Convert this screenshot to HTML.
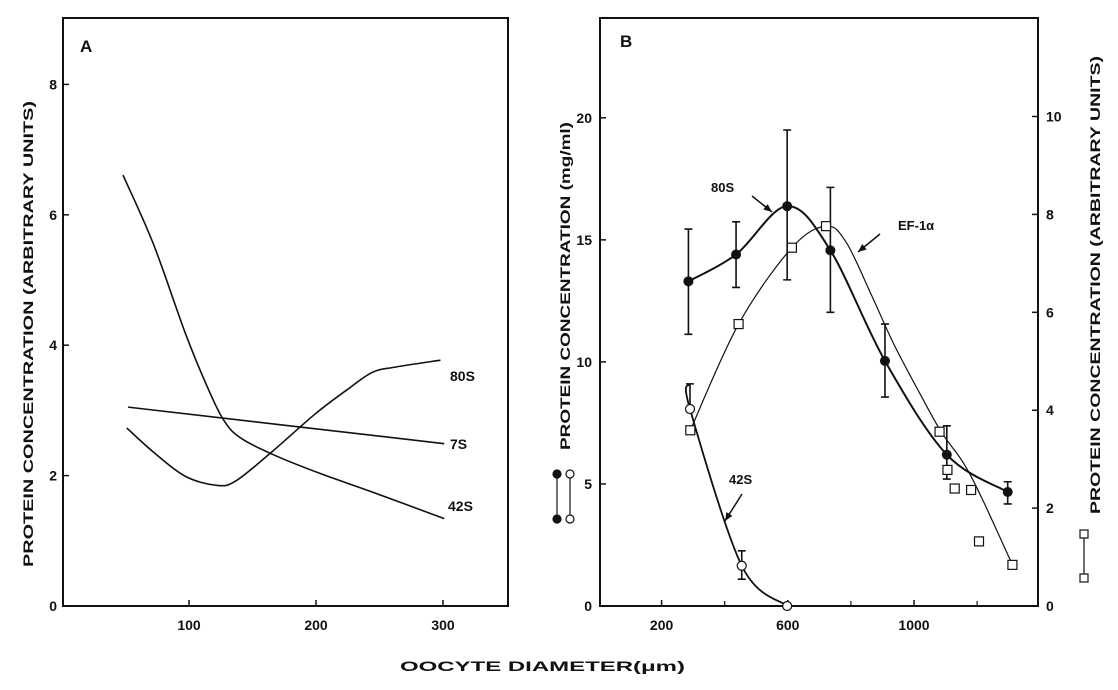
<!DOCTYPE html>
<html><head><meta charset="utf-8"><style>
html,body{margin:0;padding:0;background:#fff;width:1118px;height:690px;overflow:hidden}
svg{display:block}
text{font-family:"Liberation Sans",sans-serif;font-weight:bold;fill:#111}
</style></head><body>
<svg id="chart" width="1118" height="690" viewBox="0 0 1118 690"></svg>
<script>
// Panel A data
const aTicksX = [100, 200, 300];
const aTicksY = [0, 2, 4, 6, 8];
const a42sX = [48, 72, 97, 114, 128, 142, 170, 205, 244, 301];
const a42sY = [6.61, 5.55, 4.19, 3.38, 2.83, 2.56, 2.29, 2.02, 1.75, 1.34];
const a7sX = [52, 301];
const a7sY = [3.05, 2.49];
const a80sX = [51, 72, 97, 122, 137, 165, 199, 224, 244, 261, 298];
const a80sY = [2.73, 2.36, 1.99, 1.85, 1.92, 2.36, 2.94, 3.31, 3.58, 3.66, 3.77];
// Panel B data
const bTicksX = [200, 600, 1000];
const bMinorX = [400, 800, 1200];
const bTicksLeft = [0, 5, 10, 15, 20];
const bTicksRight = [0, 2, 4, 6, 8, 10];
const b80sX = [285, 436, 598, 735, 908, 1104, 1297];
const b80sY = [13.3, 14.4, 16.38, 14.57, 10.04, 6.2, 4.67];
const b80sHi = [15.44, 15.74, 19.5, 17.15, 11.55, 7.38, 5.09];
const b80sLo = [11.13, 13.05, 13.36, 12.03, 8.56, 5.2, 4.18];
const b42sX = [290, 454, 598];
const b42sY = [8.07, 1.65, 0];
const b42sHi = [9.1, 2.26, 0];
const b42sLo = [8.07, 1.1, 0];
const efX = [291, 444, 613, 721, 1081, 1106, 1129, 1181, 1206, 1312];
const efY = [3.59, 5.76, 7.32, 7.76, 3.56, 2.78, 2.40, 2.37, 1.32, 0.84];
const efCurveX = [291, 444, 613, 721, 785, 866, 936, 1017, 1087, 1157, 1216, 1312];
const efCurveY = [3.59, 5.76, 7.32, 7.76, 7.43, 6.34, 5.35, 4.36, 3.55, 2.92, 2.19, 0.84];

const NS = "http://www.w3.org/2000/svg";
const svg = document.getElementById('chart');
function mk(tag, attrs, parent) {
  const e = document.createElementNS(NS, tag);
  for (const k in attrs) e.setAttribute(k, attrs[k]);
  (parent || svg).appendChild(e);
  return e;
}
const axA = v => 62 + v * 1.27;
const ayA = v => 606 - v * 65.2;
const bxS = v => 661.6 + (v - 200) * 0.3155;
const byL = v => 606 - v * 24.41;
const byR = v => 606 - v * 48.95;

function smooth(pts) {
  let d = `M${pts[0][0]},${pts[0][1]}`;
  for (let i = 0; i < pts.length - 1; i++) {
    const p0 = pts[i - 1] || pts[i], p1 = pts[i], p2 = pts[i + 1], p3 = pts[i + 2] || p2;
    const c1 = [p1[0] + (p2[0] - p0[0]) / 6, p1[1] + (p2[1] - p0[1]) / 6];
    const c2 = [p2[0] - (p3[0] - p1[0]) / 6, p2[1] - (p3[1] - p1[1]) / 6];
    d += ` C${c1[0]},${c1[1]} ${c2[0]},${c2[1]} ${p2[0]},${p2[1]}`;
  }
  return d;
}
function txt(x, y, s, attrs, name) {
  const t = mk('text', Object.assign({x: x, y: y}, attrs || {}));
  t.textContent = s;
  
  
  return t;
}

// ---------- Panel A ----------
const fa = mk('rect', {x: 63, y: 18, width: 445, height: 588, fill: 'none', stroke: '#111', 'stroke-width': 2});


txt(80, 52, 'A', {'font-size': 17}, 'panel-a-label');
aTicksX.forEach(v => {
  const l = mk('line', {x1: axA(v), x2: axA(v), y1: 606, y2: 600, stroke: '#111', 'stroke-width': 1.5});
  
  
  txt(axA(v), 630, String(v), {'font-size': 14, 'text-anchor': 'middle'}, 'a-x-tick-label');
});
aTicksY.forEach(v => {
  const l = mk('line', {x1: 63, x2: 69, y1: ayA(v), y2: ayA(v), stroke: '#111', 'stroke-width': 1.5});
  
  
  txt(57, ayA(v) + 5, String(v), {'font-size': 14, 'text-anchor': 'end'}, 'a-y-tick-label');
});
txt(0, 0, 'PROTEIN  CONCENTRATION  (ARBITRARY  UNITS)', {'font-size': 14, 'text-anchor': 'middle', transform: 'translate(33,334) rotate(-90)', textLength: 466, lengthAdjust: 'spacingAndGlyphs'}, 'a-y-axis-title');
function lineA(xs, ys, name) {
  const p = mk('path', {d: smooth(xs.map((x, i) => [axA(x), ayA(ys[i])])), fill: 'none', stroke: '#111', 'stroke-width': 1.6});
  
  
}
lineA(a42sX, a42sY, 'a-line-42s');
lineA(a7sX, a7sY, 'a-line-7s');
lineA(a80sX, a80sY, 'a-line-80s');
txt(450, 381, '80S', {'font-size': 14}, 'a-label-80s');
txt(450, 449, '7S', {'font-size': 14}, 'a-label-7s');
txt(448, 511, '42S', {'font-size': 14}, 'a-label-42s');

// ---------- Panel B ----------
const fb = mk('rect', {x: 600, y: 18, width: 438, height: 588, fill: 'none', stroke: '#111', 'stroke-width': 2});


txt(620, 47, 'B', {'font-size': 17}, 'panel-b-label');
bTicksX.forEach(v => {
  const l = mk('line', {x1: bxS(v), x2: bxS(v), y1: 606, y2: 600, stroke: '#111', 'stroke-width': 1.5});
  
  
  txt(bxS(v), 630, String(v), {'font-size': 14, 'text-anchor': 'middle'}, 'b-x-tick-label');
});
bMinorX.forEach(v => {
  const l = mk('line', {x1: bxS(v), x2: bxS(v), y1: 606, y2: 601, stroke: '#111', 'stroke-width': 1.2});
  
  
});
bTicksLeft.forEach(v => {
  const l = mk('line', {x1: 600, x2: 606, y1: byL(v), y2: byL(v), stroke: '#111', 'stroke-width': 1.5});
  
  
  txt(592, byL(v) + 5, String(v), {'font-size': 14, 'text-anchor': 'end'}, 'b-left-tick-label');
});
bTicksRight.forEach(v => {
  const l = mk('line', {x1: 1032, x2: 1038, y1: byR(v), y2: byR(v), stroke: '#111', 'stroke-width': 1.5});
  
  
  txt(1046, byR(v) + 5, String(v), {'font-size': 14}, 'b-right-tick-label');
});
txt(0, 0, 'PROTEIN  CONCENTRATION (mg/ml)', {'font-size': 14, 'text-anchor': 'middle', transform: 'translate(570,286) rotate(-90)', textLength: 328, lengthAdjust: 'spacingAndGlyphs'}, 'b-left-axis-title');
txt(0, 0, 'PROTEIN CONCENTRATION (ARBITRARY UNITS)', {'font-size': 14, 'text-anchor': 'middle', transform: 'translate(1100,285) rotate(-90)', textLength: 458, lengthAdjust: 'spacingAndGlyphs'}, 'b-right-axis-title');
txt(400, 671, 'OOCYTE  DIAMETER(\u03bcm)', {'font-size': 14, textLength: 285, lengthAdjust: 'spacingAndGlyphs'}, 'x-axis-title');

// legend keys
[[557, 'filled'], [570, 'open']].forEach(([x, k]) => {
  const l = mk('line', {x1: x, x2: x, y1: 474, y2: 519, stroke: '#111', 'stroke-width': 1.2});
  
  
  [474, 519].forEach(y => {
    const c = mk('circle', {cx: x, cy: y, r: 4, fill: k === 'filled' ? '#111' : '#fff', stroke: '#111', 'stroke-width': 1.2});
    
    
  });
});
{
  const l = mk('line', {x1: 1084, x2: 1084, y1: 534, y2: 578, stroke: '#111', 'stroke-width': 1.2});
  
  
  [534, 578].forEach(y => {
    const r = mk('rect', {x: 1080, y: y - 4, width: 8, height: 8, fill: '#fff', stroke: '#111', 'stroke-width': 1.2});
    
    
  });
}

{
  const p = mk('path', {d: smooth(efCurveX.map((x, i) => [bxS(x), byR(efCurveY[i])])), fill: 'none', stroke: '#111', 'stroke-width': 1.2});
  
  
}
{
  const p = mk('path', {d: smooth(b80sX.map((x, i) => [bxS(x), byL(b80sY[i])])), fill: 'none', stroke: '#111', 'stroke-width': 2});
  
  
}
{
  const p = mk('path', {d: smooth([[bxS(b42sX[0]) - 1, byL(b42sHi[0])]].concat(b42sX.map((x, i) => [bxS(x), byL(b42sY[i])]))), fill: 'none', stroke: '#111', 'stroke-width': 1.8});
  
  
}
function errBar(x, hi, lo, name) {
  const X = bxS(x);
  const g = mk('path', {d: `M${X},${byL(hi)}V${byL(lo)}M${X - 4},${byL(hi)}H${X + 4}M${X - 4},${byL(lo)}H${X + 4}`, stroke: '#111', 'stroke-width': 1.6, fill: 'none'});
  
  
}
b80sX.forEach((x, i) => errBar(x, b80sHi[i], b80sLo[i], 'b-errorbar-80s'));
b42sX.forEach((x, i) => { if (b42sHi[i] !== b42sLo[i]) errBar(x, b42sHi[i], b42sLo[i], 'b-errorbar-42s'); });
efX.forEach((x, i) => {
  const r = mk('rect', {x: bxS(x) - 4.5, y: byR(efY[i]) - 4.5, width: 9, height: 9, fill: '#fff', stroke: '#111', 'stroke-width': 1.2});
  
  
});
b80sX.forEach((x, i) => {
  const c = mk('circle', {cx: bxS(x), cy: byL(b80sY[i]), r: 5, fill: '#111'});
  
  
});
b42sX.forEach((x, i) => {
  const c = mk('circle', {cx: bxS(x), cy: byL(b42sY[i]), r: 4.5, fill: '#fff', stroke: '#111', 'stroke-width': 1.2});
  
  
});
function arrow(x1, y1, x2, y2, name) {
  const ang = Math.atan2(y2 - y1, x2 - x1);
  const a = mk('path', {d: `M${x1},${y1}L${x2},${y2}`, stroke: '#111', 'stroke-width': 1.5});
  
  
  const h = mk('path', {d: `M${x2},${y2}L${x2 - 9 * Math.cos(ang - 0.4)},${y2 - 9 * Math.sin(ang - 0.4)}L${x2 - 9 * Math.cos(ang + 0.4)},${y2 - 9 * Math.sin(ang + 0.4)}Z`, fill: '#111'});
  
  
}
txt(711, 192, '80S', {'font-size': 13}, 'b-label-80s');
arrow(752, 196, 772, 212, 'b-arrow-80s');
txt(898, 230, 'EF-1\u03b1', {'font-size': 13}, 'b-label-ef1a');
arrow(880, 234, 858, 252, 'b-arrow-ef1a');
txt(729, 484, '42S', {'font-size': 13}, 'b-label-42s');
arrow(742, 494, 725, 521, 'b-arrow-42s');
</script>
</body></html>
